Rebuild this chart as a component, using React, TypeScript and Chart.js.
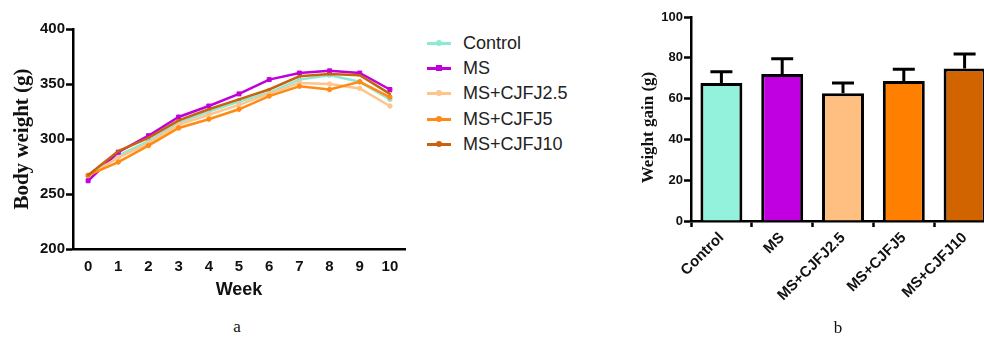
import React, { useEffect, useRef } from "react";
import { Chart, registerables } from "chart.js";

Chart.register(...registerables);

// ---------- data ----------
const weekLabels = ["0", "1", "2", "3", "4", "5", "6", "7", "8", "9", "10"];
const seriesNames = ["Control", "MS", "MS+CJFJ2.5", "MS+CJFJ5", "MS+CJFJ10"];

const controlWeight = [266, 285, 298, 315, 325, 334, 342, 354, 358, 352, 336];
const msWeight = [262, 288, 303, 320, 330, 341, 354, 360, 362, 360, 345];
const cjfj25Weight = [267, 283, 296, 313, 322, 331, 341, 351, 350, 346, 330];
const cjfj5Weight = [267, 279, 294, 310, 318, 327, 339, 348, 345, 352, 338];
const cjfj10Weight = [267, 289, 301, 317, 327, 336, 345, 357, 359, 358, 341];

const gainMeans = [67.6, 72.0, 62.6, 68.6, 74.8];
const gainErrors = [5.6, 7.5, 5.0, 5.8, 7.1];

const bodyTicks = [200, 250, 300, 350, 400];
const gainTicks = [0, 20, 40, 60, 80, 100];

const lineColors = ["#8ce9d5", "#c000d8", "#ffc48c", "#ff8a14", "#c8620c"];
const barColors = ["#92f2dc", "#c000e0", "#ffbf80", "#ff8000", "#d26400"];
const pointStyles = ["circle", "rect", "circle", "circle", "crossRot"];

const SANS = "'Liberation Sans', Arial, sans-serif";
const SERIF = "'Liberation Serif', 'Times New Roman', serif";

const errorBarPlugin = {
  id: "errorBars",
  afterDatasetsDraw(chart: any) {
    const meta = chart.getDatasetMeta(0);
    const yScale = chart.scales.y;
    const ctx = chart.ctx;
    ctx.save();
    ctx.strokeStyle = "#000";
    ctx.lineWidth = 3;
    meta.data.forEach((el: any, i: number) => {
      const top = yScale.getPixelForValue(gainMeans[i]);
      const errTop = yScale.getPixelForValue(gainMeans[i] + gainErrors[i]);
      ctx.beginPath();
      ctx.moveTo(el.x, top);
      ctx.lineTo(el.x, errTop);
      ctx.moveTo(el.x - 11, errTop);
      ctx.lineTo(el.x + 11, errTop);
      ctx.stroke();
    });
    ctx.restore();
  },
};

export default function App() {
  const lineRef = useRef<HTMLCanvasElement>(null);
  const barRef = useRef<HTMLCanvasElement>(null);

  useEffect(() => {
    const seriesData = [controlWeight, msWeight, cjfj25Weight, cjfj5Weight, cjfj10Weight];
    const lineChart = new Chart(lineRef.current!, {
      type: "line",
      data: {
        labels: weekLabels,
        datasets: seriesNames.map((name, i) => ({
          label: name,
          data: seriesData[i],
          borderColor: lineColors[i],
          backgroundColor: lineColors[i],
          borderWidth: 2.5,
          pointRadius: i === 1 ? 2.8 : 2.2,
          pointStyle: pointStyles[i] as any,
          pointBorderWidth: 1,
          tension: 0,
          order: 5 - i,
        })),
      },
      options: {
        responsive: false,
        animation: false,
        devicePixelRatio: 1,
        layout: { padding: { left: 0, top: 29, right: 15, bottom: 0 } },
        plugins: { legend: { display: false }, tooltip: { enabled: false } },
        scales: {
          x: {
            type: "category",
            offset: true,
            grid: { display: true, drawOnChartArea: false, drawTicks: false },
            border: { display: true, color: "#000", width: 2.5 },
            ticks: {
              color: "#111",
              font: { family: SANS, size: 15, weight: "bold" },
              padding: 9,
              maxRotation: 0,
              autoSkip: false,
            },
            title: {
              display: true,
              text: "Week",
              color: "#111",
              font: { family: SANS, size: 18, weight: "bold" },
              padding: { top: 0, bottom: 9 },
            },
            afterFit: (s: any) => {
              s.height = 61;
            },
          },
          y: {
            min: 200,
            max: 400,
            afterBuildTicks: (s: any) => {
              s.ticks = bodyTicks.map((v) => ({ value: v }));
            },
            grid: {
              drawOnChartArea: false,
              drawTicks: true,
              tickLength: 7,
              tickColor: "#000",
              tickWidth: 2.5,
            },
            border: { display: true, color: "#000", width: 2.5 },
            ticks: {
              color: "#111",
              font: { family: SANS, size: 15, weight: "bold" },
              padding: 1,
            },
            title: {
              display: true,
              text: "Body weight (g)",
              color: "#111",
              font: { family: SERIF, size: 21, weight: "bold" },
              padding: { top: 10, bottom: 0 },
            },
            afterFit: (s: any) => {
              s.width = 73;
            },
          },
        },
      },
    });

    const barChart = new Chart(barRef.current!, {
      type: "bar",
      data: {
        labels: seriesNames,
        datasets: [
          {
            label: "Weight gain",
            data: gainMeans,
            backgroundColor: barColors,
            borderColor: "#000",
            borderWidth: 3,
            barPercentage: 0.69,
            categoryPercentage: 1,
          },
        ],
      },
      options: {
        responsive: false,
        animation: false,
        devicePixelRatio: 1,
        layout: { padding: { left: 0, top: 17, right: 5, bottom: 0 } },
        plugins: { legend: { display: false }, tooltip: { enabled: false } },
        scales: {
          x: {
            type: "category",
            offset: true,
            grid: {
              display: true,
              drawOnChartArea: false,
              drawTicks: true,
              tickLength: 6,
              tickColor: "#000",
              tickWidth: 2.5,
            },
            border: { display: true, color: "#000", width: 2.5 },
            ticks: {
              color: "#111",
              font: { family: SANS, size: 15, weight: "bold" },
              padding: 2,
              minRotation: 45,
              maxRotation: 45,
              autoSkip: false,
            },
            afterFit: (s: any) => {
              s.height = 99;
            },
          },
          y: {
            min: 0,
            max: 100,
            afterBuildTicks: (s: any) => {
              s.ticks = gainTicks.map((v) => ({ value: v }));
            },
            grid: {
              drawOnChartArea: false,
              drawTicks: true,
              tickLength: 7,
              tickColor: "#000",
              tickWidth: 2.5,
            },
            border: { display: true, color: "#000", width: 2.5 },
            ticks: {
              color: "#111",
              font: { family: SANS, size: 13, weight: "bold" },
              padding: 1,
            },
            title: {
              display: true,
              text: "Weight gain (g)    ",
              color: "#111",
              font: { family: SERIF, size: 17, weight: "bold" },
              padding: { top: 38, bottom: 0 },
            },
            afterFit: (s: any) => {
              s.width = 91;
            },
          },
        },
      },
      plugins: [errorBarPlugin],
    });

    return () => {
      lineChart.destroy();
      barChart.destroy();
    };
  }, []);

  const legendCenters = [43, 68, 93, 119, 144];

  return (
    <div
      style={{
        position: "fixed",
        left: 0,
        top: 0,
        width: 984,
        height: 340,
        overflow: "hidden",
        background: "#fff",
      }}
    >
      <canvas
        ref={lineRef}
        width={420}
        height={310}
        style={{ position: "absolute", left: 0, top: 0, width: 420, height: 310 }}
      />
      {seriesNames.map((name, i) => (
        <div key={name}>
          <div
            style={{
              position: "absolute",
              left: 427,
              top: legendCenters[i] - 1.5,
              width: 24,
              height: 3,
              background: lineColors[i],
            }}
          />
          <div
            style={{
              position: "absolute",
              left: 436,
              top: legendCenters[i] - 3,
              width: 6,
              height: 6,
              background: lineColors[i],
              borderRadius: i === 1 ? 0 : 3,
            }}
          />
          <div
            style={{
              position: "absolute",
              left: 463,
              top: legendCenters[i] - 11,
              height: 22,
              lineHeight: "22px",
              fontFamily: SANS,
              fontSize: 18,
              color: "#222",
              whiteSpace: "nowrap",
            }}
          >
            {name}
          </div>
        </div>
      ))}
      <canvas
        ref={barRef}
        width={400}
        height={320}
        style={{ position: "absolute", left: 600, top: 0, width: 400, height: 320 }}
      />
      <div
        style={{
          position: "absolute",
          left: 227,
          width: 20,
          top: 317,
          textAlign: "center",
          fontFamily: SERIF,
          fontSize: 17,
          lineHeight: "20px",
          color: "#111",
        }}
      >
        a
      </div>
      <div
        style={{
          position: "absolute",
          left: 828,
          width: 20,
          top: 318,
          textAlign: "center",
          fontFamily: SERIF,
          fontSize: 17,
          lineHeight: "20px",
          color: "#111",
        }}
      >
        b
      </div>
    </div>
  );
}
